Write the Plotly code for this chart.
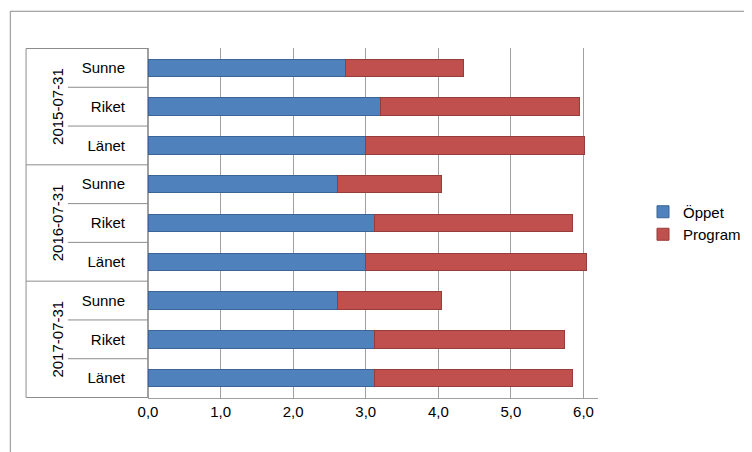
import plotly.graph_objects as go

# data, top to bottom as in the chart
groups = ["2015-07-31", "2016-07-31", "2017-07-31"]
places = ["Sunne", "Riket", "Länet"]
oppet = [2.72, 3.2, 3.0, 2.61, 3.12, 3.0, 2.61, 3.12, 3.12]
program = [1.62, 2.75, 3.02, 1.43, 2.73, 3.04, 1.43, 2.62, 2.73]

labels = places * len(groups)
ypos = list(range(len(labels)))

fig = go.Figure()
fig.add_trace(go.Bar(y=ypos, x=oppet, name="Öppet", orientation="h",
                     marker=dict(color="#4F81BD", line=dict(color="#3A6596", width=1)),
                     width=0.45))
fig.add_trace(go.Bar(y=ypos, x=program, name="Program", orientation="h",
                     marker=dict(color="#C0504D", line=dict(color="#963C3A", width=1)),
                     width=0.45))

# group labels and separators on the left
shapes = [dict(type="line", xref="paper", yref="y", x0=-0.271, x1=-0.271,
               y0=-0.5, y1=len(labels) - 0.5, line=dict(color="#8c8c8c", width=1))]
for i in range(len(labels) + 1):
    x0 = -0.271 if i % 3 == 0 else -0.178
    shapes.append(dict(type="line", xref="paper", yref="y", x0=x0, x1=0,
                       y0=i - 0.5, y1=i - 0.5, line=dict(color="#8c8c8c", width=1)))
annotations = []
for g, name in enumerate(groups):
    annotations.append(dict(xref="paper", yref="y", x=-0.225, y=g * 3 + 1,
                            text=name, textangle=-90, showarrow=False,
                            font=dict(size=15, color="black")))

fig.update_layout(
    barmode="stack",
    width=752, height=452,
    margin=dict(l=140, r=162, t=40, b=62),
    paper_bgcolor="white", plot_bgcolor="white",
    font=dict(family="Liberation Sans, Arial", size=15, color="black"),
    shapes=shapes + [dict(type="rect", xref="paper", yref="paper", x0=-0.306, x1=1.355,
                          y0=-0.172, y1=1.105, line=dict(color="#8c8c8c", width=1))],
    annotations=annotations,
    legend=dict(x=1.1, y=0.5, yanchor="middle", font=dict(size=15),
                traceorder="normal", tracegroupgap=14),
    xaxis=dict(range=[0, 6.2], dtick=1, tickformat=".1f", showgrid=True,
               gridcolor="#a0a0a0", zeroline=True, zerolinecolor="#a0a0a0",
               showline=True, linecolor="#a0a0a0", automargin=False),
    yaxis=dict(tickvals=ypos, ticktext=labels, autorange="reversed",
               showgrid=False, ticks="", ticklabelstandoff=22, automargin=False),
    separators=", ",
)
fig.write_html("out.html")
